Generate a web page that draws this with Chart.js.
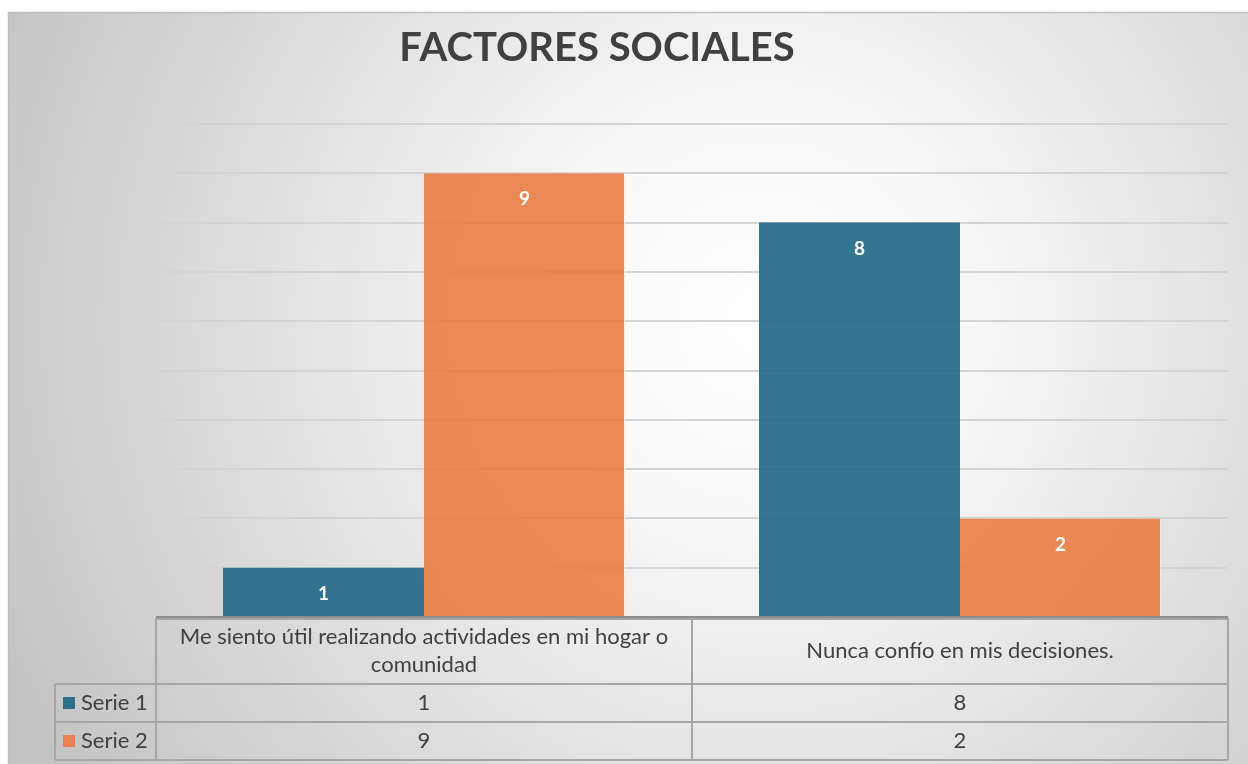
<!DOCTYPE html>
<html>
<head>
<meta charset="utf-8">
<script src="https://cdn.jsdelivr.net/npm/chart.js@4.4.1/dist/chart.umd.min.js"></script>
<style>
html,body{margin:0;padding:0;background:#fff;}
#wrap{width:1248px;height:764px;position:relative;}
</style>
</head>
<body>
<div id="wrap"><canvas id="c" width="1248" height="764"></canvas></div>
<script>
const titleText = "FACTORES SOCIALES";
const categories = [["Me siento útil realizando actividades en mi hogar o", "comunidad"], ["Nunca confío en mis decisiones."]];
const seriesNames = ["Serie 1", "Serie 2"];
const serie1 = [1, 8];
const serie2 = [9, 2];
const yTicks = [0,1,2,3,4,5,6,7,8,9,10];

const BLUE = "rgba(38,106,138,0.93)";
const ORANGE = "rgba(232,122,64,0.88)";
const BLUE_KEY = "#2f6f8e";
const ORANGE_KEY = "#ea8150";
const FONT = "Lato, 'Open Sans', sans-serif";

const bgPlugin = {
  id: 'bg',
  beforeDraw(chart) {
    const ctx = chart.ctx;
    ctx.save();
    ctx.fillStyle = '#ffffff';
    ctx.fillRect(0,0,chart.width,chart.height);
    const g = ctx.createRadialGradient(760, 320, 0, 760, 320, 850);
    g.addColorStop(0, '#ffffff');
    g.addColorStop(0.25, '#f8f8f8');
    g.addColorStop(1, '#c2c2c2');
    ctx.fillStyle = g;
    ctx.fillRect(8, 12, chart.width - 8, chart.height - 12);
    ctx.strokeStyle = '#bfbfbf';
    ctx.lineWidth = 1.5;
    ctx.strokeRect(8.5, 12.5, chart.width, chart.height);
    // title
    ctx.fillStyle = '#404040';
    ctx.font = "bold 40px " + FONT;
    ctx.textAlign = 'center';
    ctx.textBaseline = 'middle';
    ctx.fillText(titleText, 597, 48);
    ctx.restore();
  }
};

const labelPlugin = {
  id: 'vals',
  afterDatasetsDraw(chart) {
    const ctx = chart.ctx;
    ctx.save();
    ctx.fillStyle = '#ffffff';
    ctx.font = "bold 19px " + FONT;
    ctx.textAlign = 'center';
    ctx.textBaseline = 'middle';
    chart.data.datasets.forEach((ds, i) => {
      chart.getDatasetMeta(i).data.forEach((bar, j) => {
        ctx.fillText(String(ds.data[j]), bar.x, bar.y + 26);
      });
    });
    ctx.restore();
  }
};

const tablePlugin = {
  id: 'table',
  afterDraw(chart) {
    const ctx = chart.ctx;
    const xs = chart.scales.x;
    const a = chart.chartArea;
    const left = a.left, right = a.right;
    const mid = (xs.getPixelForValue(0) + xs.getPixelForValue(1)) / 2;
    const top = a.bottom + 1;
    const r1 = top + 66, r2 = r1 + 38, r3 = r2 + 38;
    const legLeft = 55;
    ctx.save();
    // axis line
    ctx.strokeStyle = '#8c8c8c';
    ctx.lineWidth = 2;
    ctx.beginPath(); ctx.moveTo(left, a.bottom); ctx.lineTo(right, a.bottom); ctx.stroke();
    ctx.strokeStyle = '#a6a6a6';
    ctx.lineWidth = 2;
    ctx.beginPath();
    ctx.moveTo(left, top + 1); ctx.lineTo(right, top + 1);
    ctx.moveTo(legLeft, r1); ctx.lineTo(right, r1);
    ctx.moveTo(legLeft, r2); ctx.lineTo(right, r2);
    ctx.moveTo(legLeft, r3); ctx.lineTo(right, r3);
    ctx.moveTo(left, top); ctx.lineTo(left, r3);
    ctx.moveTo(mid, top); ctx.lineTo(mid, r3);
    ctx.moveTo(right, top); ctx.lineTo(right, r3);
    ctx.moveTo(legLeft, r1); ctx.lineTo(legLeft, r3);
    ctx.stroke();
    ctx.fillStyle = '#404040';
    ctx.font = "22px " + FONT;
    ctx.textAlign = 'center';
    ctx.textBaseline = 'middle';
    const colCenters = [(left + mid) / 2, (mid + right) / 2];
    categories.forEach((lines, i) => {
      const lh = 28;
      const startY = (top + r1) / 2 - (lines.length - 1) * lh / 2;
      lines.forEach((ln, k) => ctx.fillText(ln, colCenters[i], startY + k * lh));
    });
    const rows = [serie1, serie2];
    const rowY = [(r1 + r2) / 2, (r2 + r3) / 2];
    const keys = [BLUE_KEY, ORANGE_KEY];
    rows.forEach((vals, i) => {
      vals.forEach((v, j) => ctx.fillText(String(v), colCenters[j], rowY[i]));
      ctx.fillStyle = keys[i];
      ctx.fillRect(63, rowY[i] - 6, 12, 12);
      ctx.fillStyle = '#404040';
      ctx.textAlign = 'left';
      ctx.fillText(seriesNames[i], 81, rowY[i]);
      ctx.textAlign = 'center';
    });
    ctx.restore();
  }
};

new Chart(document.getElementById('c'), {
  type: 'bar',
  data: {
    labels: categories,
    datasets: [
      { label: seriesNames[0], data: serie1, backgroundColor: BLUE, borderWidth: 0 },
      { label: seriesNames[1], data: serie2, backgroundColor: ORANGE, borderColor: 'rgba(255,230,215,0.8)', borderWidth: {right: 1, left: 0, top: 0, bottom: 0} }
    ]
  },
  options: {
    responsive: false,
    animation: false,
    devicePixelRatio: 1,
    layout: { padding: { left: 156, right: 20, top: 124, bottom: 147 } },
    plugins: { legend: { display: false }, title: { display: false }, tooltip: { enabled: false } },
    datasets: { bar: { categoryPercentage: 0.75, barPercentage: 1 } },
    scales: {
      x: {
        ticks: { display: false },
        grid: { display: false },
        border: { display: false },
        afterFit(s) { s.height = 0; }
      },
      y: {
        min: 0, max: 10,
        afterBuildTicks(s) { s.ticks = yTicks.map(v => ({ value: v })); },
        ticks: { display: false },
        grid: { color: '#d4d4d4', lineWidth: 2, drawTicks: false },
        border: { display: false },
        afterFit(s) { s.width = 0; }
      }
    }
  },
  plugins: [bgPlugin, labelPlugin, tablePlugin]
});
</script>
</body>
</html>
